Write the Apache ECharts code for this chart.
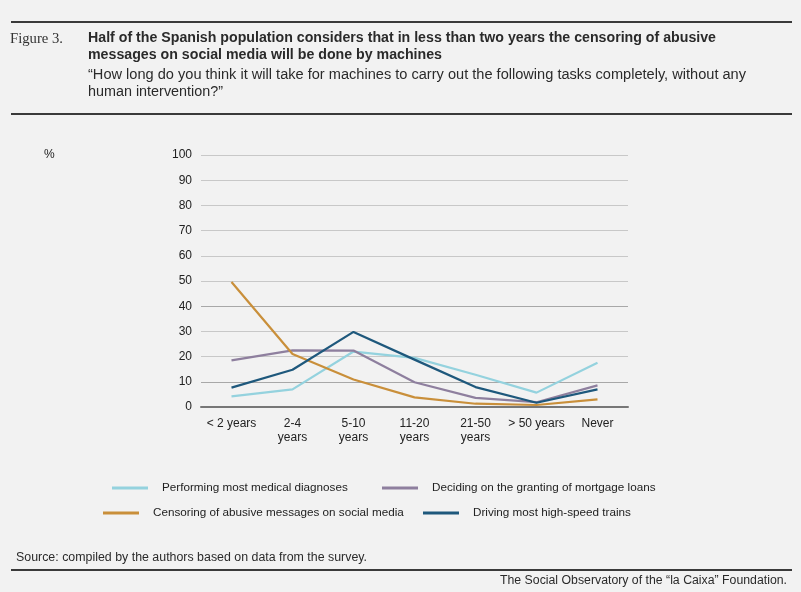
<!DOCTYPE html>
<html lang="en">
<head>
    <meta charset="UTF-8">
    <title>Figure 3</title>
    <script src="https://cdn.jsdelivr.net/npm/echarts@6/dist/echarts.min.js"></script>
    <style>
        html, body { margin: 0; padding: 0; background: #f2f2f2; }
        #main { width: 801px; height: 592px; }
    </style>
</head>
<body>
<div id="main"></div>
<script type="text/javascript">

    // data (percent)
    const categories = ['< 2 years', '2-4\nyears', '5-10\nyears', '11-20\nyears', '21-50\nyears', '> 50 years', 'Never']
    const medical = [4.2, 7, 22, 19.5, 12.8, 5.7, 17.6]
    const mortgage = [18.5, 22.5, 22.4, 9.8, 3.6, 1.9, 8.6]
    const censoring = [49.6, 21, 10.9, 3.8, 1.3, 0.8, 3]
    const driving = [7.7, 14.8, 29.8, 18.8, 7.9, 1.7, 7]

    const names = [
        'Performing most medical diagnoses',
        'Deciding on the granting of mortgage loans',
        'Censoring of abusive messages on social media',
        'Driving most high-speed trains'
    ]
    const colors = ['#94d2de', '#8e7f9e', '#c98f3a', '#1e587c']

    const sans = '"Liberation Sans Narrow", "Liberation Sans", Arial, sans-serif'
    const plain = '"Liberation Sans", Arial, sans-serif'

    // squeeze header text to the width it has in the original
    const ctx = document.createElement('canvas').getContext('2d')
    function fitText(text, x, y, width, font, color) {
        ctx.font = font
        const w = ctx.measureText(text).width
        return {
            type: 'text', x: x, y: y, scaleX: width / w,
            style: { text: text, font: font, fill: color || '#2a2a2a', textVerticalAlign: 'middle' }
        }
    }

    function legendAt(i, left, top) {
        return {
            data: [names[i]], left: left, top: top, padding: 0,
            icon: 'rect', itemWidth: 36, itemHeight: 3,
            textStyle: { fontFamily: plain, fontSize: 11.7, color: '#222', padding: [0, 0, 0, 9] }
        }
    }

    let chart = echarts.init(document.getElementById('main'))

    chart.setOption({
        backgroundColor: '#f2f2f2',
        animation: false,
        color: colors,
        graphic: [
            { type: 'rect', shape: { x: 11, y: 21, width: 781, height: 2 }, style: { fill: '#3a3a3a' } },
            fitText('Figure 3.', 10, 39, 53, '15px "Liberation Serif", serif', '#333'),
            fitText('Half of the Spanish population considers that in less than two years the censoring of abusive', 88, 38.5, 628, 'bold 14px ' + sans),
            fitText('messages on social media will be done by machines', 88, 55.5, 354, 'bold 14px ' + sans),
            fitText('\u201cHow long do you think it will take for machines to carry out the following tasks completely, without any', 88, 75, 658, '14px ' + sans),
            fitText('human intervention?\u201d', 88, 92.5, 135, '14px ' + sans),
            { type: 'rect', shape: { x: 11, y: 113, width: 781, height: 2 }, style: { fill: '#3a3a3a' } },
            { type: 'text', x: 44, y: 155, style: { text: '%', font: '12px ' + plain, fill: '#222', textVerticalAlign: 'middle' } },
            fitText('Source: compiled by the authors based on data from the survey.', 16, 558, 351, '12px ' + sans),
            { type: 'rect', shape: { x: 11, y: 569, width: 781, height: 2 }, style: { fill: '#3a3a3a' } },
            fitText('The Social Observatory of the \u201cla Caixa\u201d Foundation.', 500, 581, 287, '12px ' + sans)
        ],
        legend: [
            legendAt(0, 112, 482),
            legendAt(1, 382, 482),
            legendAt(2, 103, 507),
            legendAt(3, 423, 507)
        ],
        grid: { left: 201, right: 173, top: 155, bottom: 185 },
        xAxis: {
            type: 'category',
            data: categories,
            axisLine: { lineStyle: { color: '#777', width: 2 } },
            axisTick: { show: false },
            axisLabel: { fontFamily: plain, fontSize: 12, color: '#222', lineHeight: 14, margin: 10, interval: 0 }
        },
        yAxis: {
            type: 'value', min: 0, max: 100, interval: 10,
            axisLine: { show: false },
            axisTick: { show: false },
            axisLabel: { fontFamily: plain, fontSize: 12, color: '#222', margin: 9 },
            splitLine: {
                lineStyle: {
                    width: 1,
                    color: ['#777', '#a8a8a8', '#c8c8c8', '#c8c8c8', '#a8a8a8', '#c8c8c8', '#c8c8c8', '#c8c8c8', '#c8c8c8', '#c8c8c8', '#c8c8c8']
                }
            }
        },
        series: [
            { name: names[0], type: 'line', data: medical, symbol: 'none', lineStyle: { width: 2.2 } },
            { name: names[1], type: 'line', data: mortgage, symbol: 'none', lineStyle: { width: 2.2 } },
            { name: names[2], type: 'line', data: censoring, symbol: 'none', lineStyle: { width: 2.2 } },
            { name: names[3], type: 'line', data: driving, symbol: 'none', lineStyle: { width: 2.2 } }
        ]
    })

</script>
</body>
</html>
